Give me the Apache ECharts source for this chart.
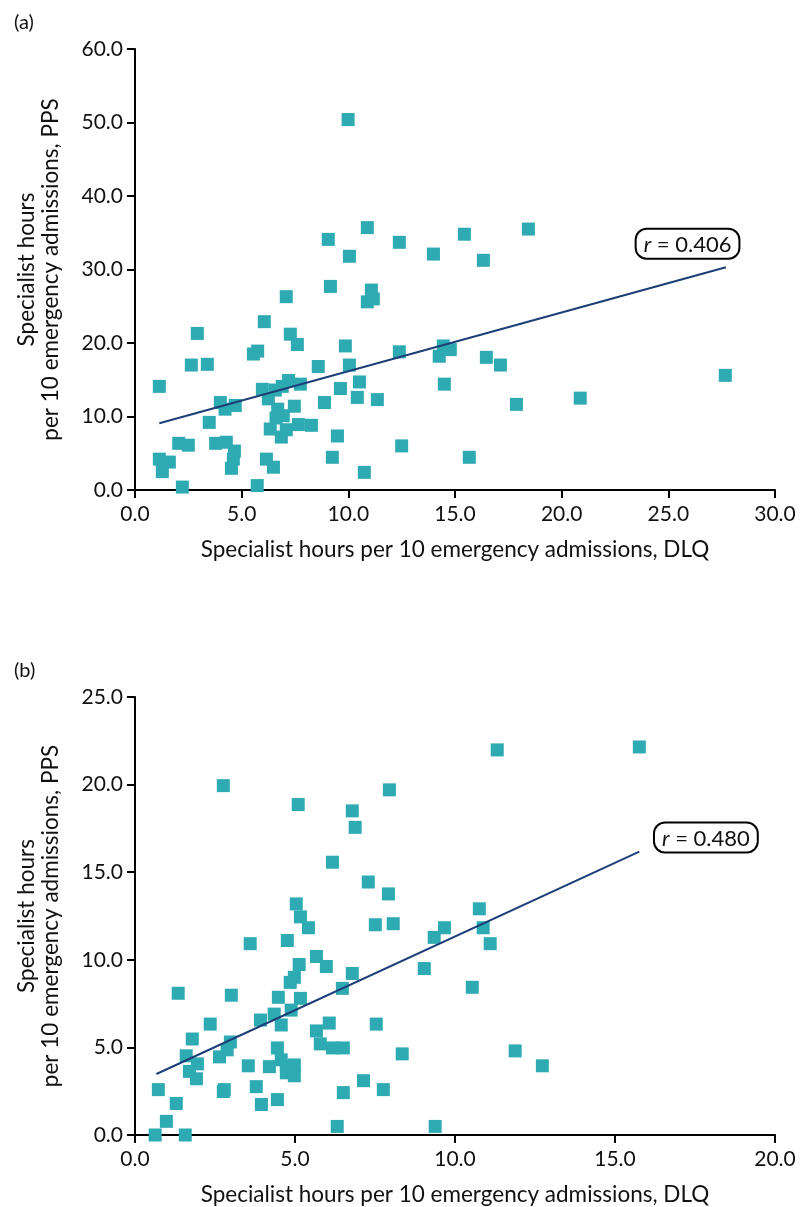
<!DOCTYPE html>
<html>
<head>
<meta charset="utf-8">
<script src="https://cdn.jsdelivr.net/npm/echarts@6/dist/echarts.min.js"></script>
<style>html,body{margin:0;padding:0;background:#fff}#c{width:801px;height:1207px}</style>
</head>
<body>
<div id="c"></div>
<script>
// Panel (a): DLQ (x) vs PPS (y)
const dlqA = [9.99,10.89,9.06,12.39,10.05,9.16,11.08,7.09,10.89,11.17,13.99,15.44,16.33,18.44,6.06,2.92,7.28,7.61,9.86,5.55,5.75,12.39,2.64,3.39,8.59,10.05,1.14,10.52,9.63,7.2,6.9,6.58,7.75,5.97,6.25,4.0,4.22,4.7,10.42,11.36,8.88,7.47,6.69,6.95,6.61,3.48,6.34,7.09,7.66,8.27,6.86,9.49,2.05,2.5,3.78,4.28,4.66,4.61,4.52,1.14,1.61,1.28,6.16,6.49,9.25,10.75,12.5,2.22,5.73,14.45,14.78,14.26,16.47,17.13,14.5,17.88,20.87,27.67,15.67];
const ppsA = [50.4,35.7,34.1,33.7,31.8,27.7,27.2,26.3,25.6,26.0,32.1,34.8,31.25,35.5,22.9,21.3,21.2,19.8,19.6,18.5,18.9,18.8,17.0,17.1,16.8,17.0,14.1,14.7,13.8,14.9,14.1,13.6,14.4,13.7,12.4,11.9,11.0,11.5,12.6,12.3,11.9,11.4,11.0,10.1,9.8,9.2,8.3,8.2,8.9,8.8,7.2,7.35,6.35,6.1,6.35,6.5,5.3,4.2,2.95,4.2,3.8,2.5,4.2,3.1,4.45,2.4,6.0,0.4,0.6,19.6,19.1,18.2,18.05,17.0,14.4,11.65,12.5,15.6,4.45];
const fitAx = [1.14, 27.7];
const fitAy = [9.07, 30.3];
const rA = 'r = 0.406';
const rAPos = [25.9, 33.5];

// Panel (b)
const dlqB = [2.76,5.1,6.79,6.88,7.95,6.17,7.29,7.92,5.04,5.17,5.42,7.51,8.07,3.6,4.76,5.67,5.13,5.98,6.79,4.98,4.85,6.48,1.35,3.01,4.48,5.17,4.88,4.35,3.92,4.57,6.07,2.35,7.54,5.67,1.79,2.98,2.88,2.64,1.6,5.79,6.17,6.51,4.45,4.57,8.35,1.95,1.7,1.92,3.54,4.2,4.73,4.98,4.73,4.98,0.73,2.76,2.79,3.79,3.95,4.45,7.14,7.76,6.51,1.29,0.98,0.63,1.57,6.32,11.32,15.76,10.76,9.67,9.35,10.88,11.1,9.04,10.54,11.88,12.73,9.38];
const ppsB = [19.94,18.86,18.5,17.56,19.7,15.57,14.44,13.76,13.19,12.45,11.83,12.0,12.06,10.92,11.1,10.19,9.73,9.62,9.22,9.0,8.71,8.37,8.09,7.98,7.86,7.8,7.13,6.9,6.56,6.28,6.39,6.33,6.33,5.94,5.48,5.31,4.86,4.46,4.52,5.2,4.97,4.97,4.97,4.29,4.63,4.06,3.63,3.21,3.95,3.9,3.9,4.0,3.55,3.38,2.59,2.48,2.59,2.76,1.74,2.02,3.1,2.59,2.42,1.8,0.78,0,0,0.49,21.98,22.15,12.91,11.83,11.28,11.83,10.92,9.5,8.43,4.8,3.95,0.49];
const fitBx = [0.67, 15.76];
const fitBy = [3.48, 16.17];
const rB = 'r = 0.480';
const rBPos = [17.84, 16.98];

const xTitle = 'Specialist hours per 10 emergency admissions, DLQ';
const yTitle = 'Specialist hours\nper 10 emergency admissions, PPS';

const FONT = 'Lato';
const MARK = '#2EAAB2';
const LINE = '#1C3F78';
const TXT = '#111';

function zip(a, b) { return a.map((v, i) => [v, b[i]]); }

function xAxis(gi, max, interval) {
  return {
    type: 'value', gridIndex: gi, min: 0, max: max, interval: interval,
    name: xTitle, nameLocation: 'middle', nameGap: 48,
    nameTextStyle: { fontFamily: FONT, fontSize: 22.5, color: TXT },
    axisLine: { show: true, lineStyle: { color: '#000', width: 2 } },
    axisTick: { show: true, length: 8, lineStyle: { color: '#000', width: 2 } },
    axisLabel: { fontFamily: FONT, fontSize: 21, color: TXT, margin: 14, formatter: v => v.toFixed(1) },
    splitLine: { show: false }
  };
}
function yAxis(gi, max, interval) {
  return {
    type: 'value', gridIndex: gi, min: 0, max: max, interval: interval,
    name: yTitle, nameLocation: 'middle', nameGap: 72,
    nameTextStyle: { fontFamily: FONT, fontSize: 22.5, color: TXT, lineHeight: 24 },
    axisLine: { show: true, lineStyle: { color: '#000', width: 2 } },
    axisTick: { show: true, length: 8, lineStyle: { color: '#000', width: 2 } },
    axisLabel: { fontFamily: FONT, fontSize: 21, color: TXT, margin: 12, formatter: v => v.toFixed(1) },
    splitLine: { show: false }
  };
}
function rLabel(gi, pos, txt) {
  const num = txt.replace(/^r/, '');
  return {
    type: 'scatter', xAxisIndex: gi, yAxisIndex: gi, symbolSize: 0, silent: true, z: 5,
    data: [pos],
    itemStyle: { opacity: 1 },
    label: {
      show: true, position: 'inside',
      formatter: '{i|r}{n|' + num + '}',
      backgroundColor: '#fff', borderColor: '#000', borderWidth: 2, borderRadius: 10,
      padding: [4, 7, 2, 7],
      rich: {
        i: { fontFamily: FONT, fontSize: 22, fontStyle: 'italic', color: TXT, textBorderWidth: 0 },
        n: { fontFamily: FONT, fontSize: 22, color: TXT, textBorderWidth: 0 }
      }
    }
  };
}

const chart = echarts.init(document.getElementById('c'), null, { renderer: 'canvas' });
chart.setOption({
  animation: false,
  backgroundColor: '#fff',
  title: [
    { text: '(a)', left: 9, top: 8, textStyle: { fontFamily: FONT, fontSize: 20, fontWeight: 'normal', color: TXT } },
    { text: '(b)', left: 9, top: 656, textStyle: { fontFamily: FONT, fontSize: 20, fontWeight: 'normal', color: TXT } }
  ],
  grid: [
    { left: 135, right: 26, top: 49, height: 441 },
    { left: 135, right: 26, top: 697, height: 441 }
  ],
  xAxis: [xAxis(0, 30, 5), xAxis(1, 20, 5)],
  yAxis: [yAxis(0, 60, 10), yAxis(1, 25, 5)],
  series: [
    { type: 'scatter', xAxisIndex: 0, yAxisIndex: 0, symbol: 'rect', symbolSize: 13,
      itemStyle: { color: MARK, opacity: 1 }, data: zip(dlqA, ppsA), z: 2 },
    { type: 'line', xAxisIndex: 0, yAxisIndex: 0, symbol: 'none', z: 3,
      lineStyle: { color: LINE, width: 2 }, data: zip(fitAx, fitAy) },
    rLabel(0, rAPos, rA),
    { type: 'scatter', xAxisIndex: 1, yAxisIndex: 1, symbol: 'rect', symbolSize: 13,
      itemStyle: { color: MARK, opacity: 1 }, data: zip(dlqB, ppsB), z: 2 },
    { type: 'line', xAxisIndex: 1, yAxisIndex: 1, symbol: 'none', z: 3,
      lineStyle: { color: LINE, width: 2 }, data: zip(fitBx, fitBy) },
    rLabel(1, rBPos, rB)
  ]
});
</script>
</body>
</html>
